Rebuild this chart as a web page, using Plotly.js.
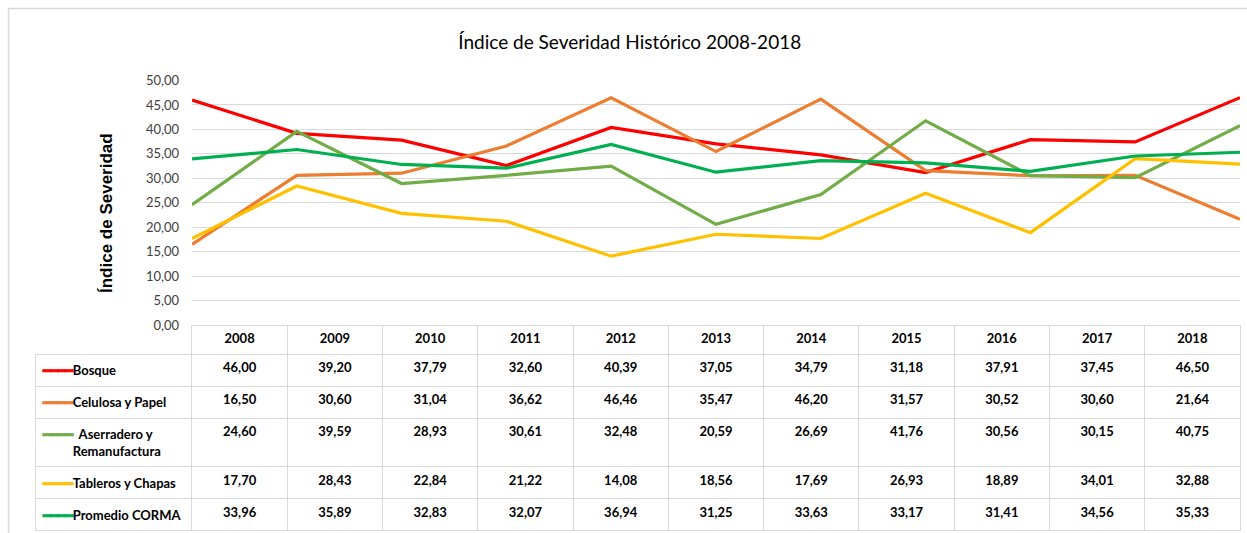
<!DOCTYPE html>
<html>
<head>
<meta charset="utf-8">
<script src="https://cdn.plot.ly/plotly-3.0.1.min.js"></script>
<style>html,body{margin:0;padding:0;background:#fff;}#chart{width:1247px;height:533px;}</style>
</head>
<body>
<div id="chart"></div>
<script>
var years = ['2008','2009','2010','2011','2012','2013','2014','2015','2016','2017','2018'];
var seriesNames = ['Bosque','Celulosa y Papel','Aserradero y Remanufactura','Tableros y Chapas','Promedio CORMA'];
var tableLines = [['Bosque'],['Celulosa y Papel'],['  Aserradero y','Remanufactura'],['Tableros y Chapas'],['Promedio CORMA']];
var colors = ['#FF0000','#ED7D31','#70AD47','#FFC000','#00B050'];
var bosque      = [46.00,39.20,37.79,32.60,40.39,37.05,34.79,31.18,37.91,37.45,46.50];
var celulosa    = [16.50,30.60,31.04,36.62,46.46,35.47,46.20,31.57,30.52,30.60,21.64];
var aserradero  = [24.60,39.59,28.93,30.61,32.48,20.59,26.69,41.76,30.56,30.15,40.75];
var tableros    = [17.70,28.43,22.84,21.22,14.08,18.56,17.69,26.93,18.89,34.01,32.88];
var promedio    = [33.96,35.89,32.83,32.07,36.94,31.25,33.63,33.17,31.41,34.56,35.33];
var allSeries = [bosque, celulosa, aserradero, tableros, promedio];

var W = 1247, H = 533;
function px(x){return x/W;}
function py(y){return 1 - y/H;}

var traces = allSeries.map(function(vals, i){
  return {
    type:'scatter', mode:'lines', x: years, y: vals, name: seriesNames[i],
    line:{color: colors[i], width:3.2, shape:'linear'},
    xaxis:'x', yaxis:'y', hoverinfo:'skip'
  };
});

function fmt(v){return v.toFixed(2).replace('.', ',');}
function nb(s){return s.replace(/ /g, '\u00a0');}
var keyGlyph = '\u2501\u2501\u2501\u2501';
var keyFont = "font-family:'DejaVu Sans Mono';font-weight:bold;letter-spacing:-0.4px;";
var labelCol = tableLines.map(function(lines, i){
  var key = '<span style="' + keyFont + 'stroke:' + colors[i] + ';stroke-width:1px;color:' + colors[i] + '">' + keyGlyph + '</span>';
  var hidden = '<span style="' + keyFont + 'color:rgba(0,0,0,0)">' + keyGlyph + '</span>';
  var out = lines.map(function(p, j){ return (j===0 ? key : hidden) + nb(p); }).join('<br>');
  if(lines.length === 1) out += '<br>';
  return out;
});
var cellValues = [labelCol].concat(years.map(function(y, j){
  return allSeries.map(function(s){ return fmt(s[j]); });
}));
var headerValues = [''].concat(years);
var colW = [157].concat(years.map(function(){return 95.3;}));
var gridC = '#D9D9D9';
var headerLine = ['rgba(0,0,0,0)'].concat(years.map(function(){return gridC;}));
var headerFill = ['rgba(0,0,0,0)'].concat(years.map(function(){return '#FFFFFF';}));

traces.push({
  type:'table',
  domain:{x:[px(35), px(1240)], y:[0, py(325)]},
  columnwidth: colW,
  header:{
    values: headerValues,
    align:'center',
    height: 29,
    line:{color: headerLine, width:1},
    fill:{color: headerFill},
    font:{family:'Lato', size:13, color:'#000', weight:'bold'}
  },
  cells:{
    values: cellValues,
    align: ['left'].concat(years.map(function(){return 'center';})),
    height: 30,
    line:{color: gridC, width:1},
    fill:{color:'#FFFFFF'},
    font:{family:'Lato', size:13, color:'#000', weight:'bold'}
  }
});

var layout = {
  width: W, height: H,
  margin:{l:0, r:0, t:0, b:0},
  paper_bgcolor:'#FFFFFF', plot_bgcolor:'#FFFFFF',
  separators:',.',
  showlegend:false,
  title:{text:'Índice de Severidad Histórico 2008-2018', x:0.505, xanchor:'center', y:py(42), yanchor:'middle',
         font:{family:'Lato', size:19, color:'#000'}},
  xaxis:{domain:[px(192), px(1240)], type:'category', showticklabels:false, showgrid:false,
         zeroline:false, showline:false, ticks:'', fixedrange:true},
  yaxis:{domain:[py(325), py(80.5)], range:[0,50], dtick:5, tickformat:'.2f',
         showgrid:true, gridcolor:'#D9D9D9', gridwidth:1, zeroline:false, showline:false,
         ticks:'', ticklabelstandoff:12,
         tickfont:{family:'Lato', size:13, color:'#404040'},
         fixedrange:true},
  annotations:[
    {text:'Índice de Severidad', xref:'paper', yref:'paper', x:px(107), y:py(213),
     xanchor:'center', yanchor:'middle', textangle:-90, showarrow:false,
     font:{family:'Liberation Sans', size:17, color:'#000', weight:'bold'}}
  ],
  shapes:[
    {type:'rect', xref:'paper', yref:'paper', x0:px(8.5), x1:px(1260), y0:py(560), y1:py(8.5),
     line:{color:'#D9D9D9', width:1.5}, fillcolor:'rgba(0,0,0,0)', layer:'below'}
  ]
};

Plotly.newPlot('chart', traces, layout, {displayModeBar:false, staticPlot:true});
</script>
</body>
</html>
